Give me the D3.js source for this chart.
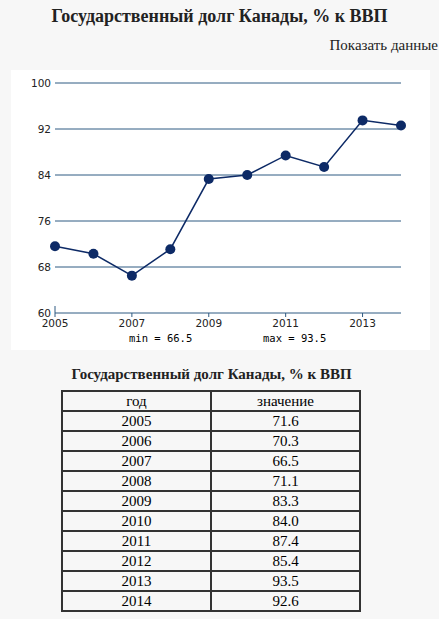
<!DOCTYPE html>
<html><head><meta charset="utf-8">
<script src="https://cdn.jsdelivr.net/npm/d3@7"></script>
<style>
body{margin:0;background:#f7f7f7;font-family:"Liberation Serif",serif;width:439px;height:619px;overflow:hidden;position:relative}
h1{position:absolute;top:6px;left:0;width:439px;text-align:center;font-size:18px;font-weight:bold;margin:0;color:#222}
#show{position:absolute;top:37px;right:1px;font-size:15px;color:#222}
#chart{position:absolute;left:11px;top:70px}
h2{position:absolute;top:366px;left:0;width:423px;text-align:center;font-size:15px;font-weight:bold;margin:0;color:#222}
table{position:absolute;left:61px;top:390px;border-collapse:collapse;font-size:15px;width:300px;table-layout:fixed}
td,th{border:2px solid #333;text-align:center;padding:0;height:18px;font-weight:normal;line-height:16px;width:50%}
</style></head><body>
<h1>Государственный долг Канады, % к ВВП</h1>
<div id="show">Показать данные</div>
<div id="chart"></div>
<h2>Государственный долг Канады, % к ВВП</h2>
<table id="tbl"></table>
<script>
const years = [2005,2006,2007,2008,2009,2010,2011,2012,2013,2014];
const values = [71.6,70.3,66.5,71.1,83.3,84.0,87.4,85.4,93.5,92.6];
const yTicks = [60,68,76,84,92,100];
const xTicks = [2005,2007,2009,2011,2013];

const W = 419, H = 280;
const svg = d3.select("#chart").append("svg").attr("width", W).attr("height", H);
svg.append("rect").attr("width", W).attr("height", H).attr("fill", "#fff");
const x = d3.scaleLinear().domain([2005, 2014]).range([44, 390]);
const y = d3.scaleLinear().domain([60, 100]).range([243, 13]);
const font = "DejaVu Sans, sans-serif";

svg.selectAll("line.g").data(yTicks).enter().append("line")
  .attr("x1", 44).attr("x2", 390).attr("y1", d => y(d)).attr("y2", d => y(d))
  .attr("stroke", "#2f5a82").attr("stroke-width", 1);
svg.selectAll("text.y").data(yTicks).enter().append("text")
  .attr("x", 40).attr("y", d => y(d) + 4).attr("text-anchor", "end")
  .attr("font-family", font).attr("font-size", 10.5).attr("fill", "#222").text(d => d);
svg.append("line").attr("x1", 44).attr("x2", 44).attr("y1", 236).attr("y2", 243).attr("stroke", "#2f5a82");
svg.selectAll("line.xt").data(xTicks).enter().append("line")
  .attr("x1", d => x(d)).attr("x2", d => x(d)).attr("y1", 243).attr("y2", 247).attr("stroke", "#2f5a82");
svg.selectAll("text.x").data(xTicks).enter().append("text")
  .attr("x", d => x(d)).attr("y", 257).attr("text-anchor", "middle")
  .attr("font-family", font).attr("font-size", 10.5).attr("fill", "#222").text(d => d);
svg.append("text").attr("x", 118).attr("y", 272).attr("font-family", "DejaVu Sans Mono, monospace")
  .attr("font-size", 10.5).text("min = " + d3.min(values));
svg.append("text").attr("x", 252).attr("y", 272).attr("font-family", "DejaVu Sans Mono, monospace")
  .attr("font-size", 10.5).text("max = " + d3.max(values));

const line = d3.line().x((d, i) => x(years[i])).y(d => y(d));
svg.append("path").datum(values).attr("d", line).attr("fill", "none")
  .attr("stroke", "#0d2a66").attr("stroke-width", 1.5);
svg.selectAll("circle").data(values).enter().append("circle")
  .attr("cx", (d, i) => x(years[i])).attr("cy", d => y(d)).attr("r", 5).attr("fill", "#0d2a66");

const tbl = d3.select("#tbl");
const hr = tbl.append("tr");
hr.append("th").text("год"); hr.append("th").text("значение");
years.forEach((yr, i) => {
  const tr = tbl.append("tr");
  tr.append("td").text(yr);
  tr.append("td").text(values[i].toFixed(1));
});
</script>
</body></html>
